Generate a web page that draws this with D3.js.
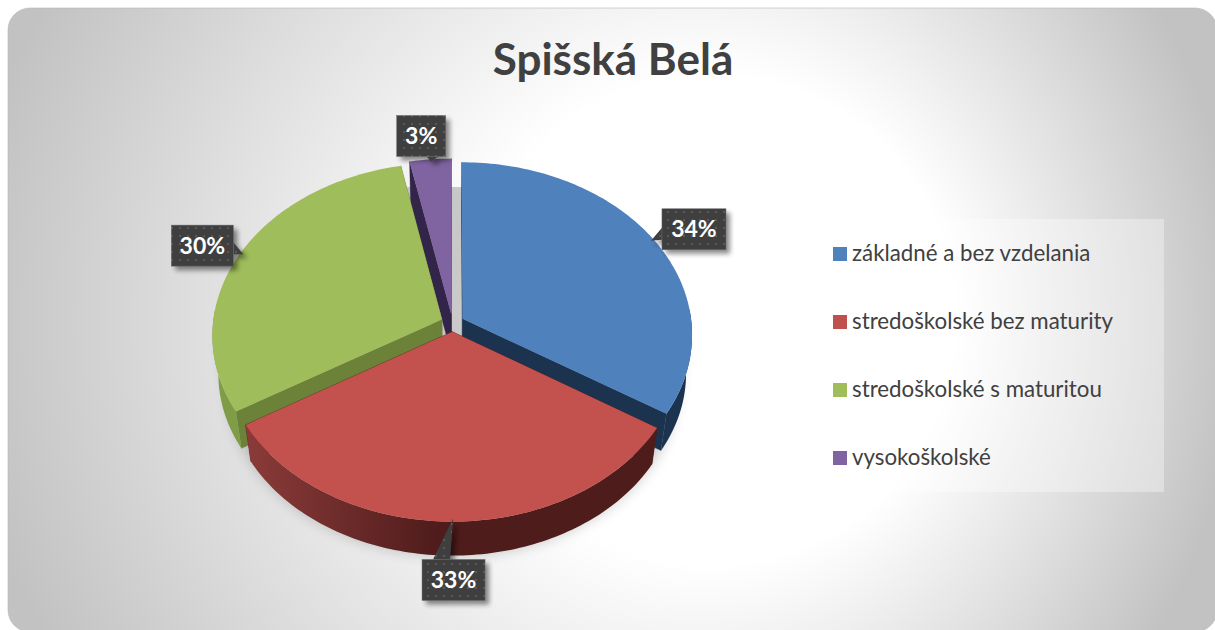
<!DOCTYPE html>
<html><head><meta charset="utf-8">
<script src="https://cdn.jsdelivr.net/npm/d3@7/dist/d3.min.js"></script>
<style>html,body{margin:0;padding:0;background:#fff}svg{display:block}text{font-family:Lato,"Open Sans",sans-serif}</style>
</head><body><div id="c"></div>
<script>
const title = "Spišská Belá";
const categories = ["základné a bez vzdelania","stredoškolské bez maturity","stredoškolské s maturitou","vysokoškolské"];
const values = [33.9,32.5,30.4,3.2];
const colors = ["#4f81bd","#c3514e","#9fbd5b","#8064a2"];
const cutColors = ["#1c3350","#4e1c1b","#6b8238","#33254a"];
const rimColors = ["#1c3350","#4e1c1b","#7f9c46","#33254a"];

const W=1215,H=630;
const cx=452.5, cy=323, R=229, E=11.5, tilt=.748, persp=.09/230, depth=39, far=.975;

const svg=d3.select("#c").append("svg").attr("width",W).attr("height",H);
const defs=svg.append("defs");

const bg=defs.append("radialGradient").attr("id","bg").attr("gradientUnits","userSpaceOnUse")
  .attr("cx",600).attr("cy",320).attr("r",640).attr("fx",780).attr("fy",320);
[[0.38,"#ffffff"],[1,"#c2c2c2"]].forEach(s=>bg.append("stop").attr("offset",s[0]).attr("stop-color",s[1]));

defs.append("filter").attr("id","blur").attr("x","-20%").attr("y","-20%").attr("width","140%").attr("height","140%")
  .append("feGaussianBlur").attr("stdDeviation",7);
defs.append("filter").attr("id","boxBlur").attr("x","-30%").attr("y","-30%").attr("width","160%").attr("height","160%")
  .append("feGaussianBlur").attr("stdDeviation",2.5);
defs.append("clipPath").attr("id","shadowClip").append("rect")
  .attr("x",200).attr("y",187).attr("width",507).attr("height",379);

const pat=defs.append("pattern").attr("id","dots").attr("patternUnits","userSpaceOnUse").attr("width",8).attr("height",8);
pat.append("rect").attr("width",8).attr("height",8).attr("fill","#3f3f3f");
pat.append("rect").attr("x",3).attr("y",3).attr("width",2).attr("height",2).attr("fill","#595959");

svg.append("rect").attr("x",8).attr("y",8).attr("width",1209).attr("height",624).attr("rx",22)
  .attr("fill","url(#bg)").attr("stroke","#b5b5b5").attr("stroke-width",.6);

const project=(X,Y,z)=>{
  const s=1/(1-persp*Y)*(z?far:1);
  return [cx+X*s, cy+tilt*Y*s+(z?depth:0)];
};
const line=d3.line();
const pie=d3.pie().sort(null).value(d=>d)(values);

// soft shadow beneath the disc
const full=d3.range(0,2*Math.PI+.01,.04);
const silhouette=d3.polygonHull(full.flatMap(a=>{
  const X=Math.sin(a)*R,Y=-Math.cos(a)*R;return [project(X,Y,0),project(X,Y,1)];
}));
svg.append("g").attr("clip-path","url(#shadowClip)").append("path")
  .attr("d",line(silhouette)+"Z").attr("transform","translate(0,10)")
  .attr("fill","#000").attr("opacity",.2).attr("filter","url(#blur)");

const slices=pie.map((p,i)=>{
  const mid=(p.startAngle+p.endAngle)/2;
  const ox=Math.sin(mid)*E, oy=-Math.cos(mid)*E;
  const n=Math.max(4,Math.ceil((p.endAngle-p.startAngle)/.02));
  const arc=d3.range(n+1).map(k=>{
    const a=p.startAngle+(p.endAngle-p.startAngle)*k/n;
    return [ox+Math.sin(a)*R, oy-Math.cos(a)*R];
  });
  return {i,mid,ox,oy,arc,p};
});

const rg=defs.append("linearGradient").attr("id","rim1").attr("gradientUnits","userSpaceOnUse")
  .attr("x1",246).attr("x2",440).attr("y1",0).attr("y2",0);
[[0,"#8b3b39"],[1,"#4e1c1b"]].forEach(s=>rg.append("stop").attr("offset",s[0]).attr("stop-color",s[1]));

const g=svg.append("g");
[3,0,2,1].forEach(i=>{
  const s=slices[i], a0=s.arc[0], a1=s.arc[s.arc.length-1], c=[s.ox,s.oy];
  const pg=g.append("g");
  const T=q=>project(q[0],q[1],0), B=q=>project(q[0],q[1],1);
  [a0,a1].forEach(e=>pg.append("path").attr("d",line([T(c),T(e),B(e),B(c)])+"Z")
    .attr("fill",cutColors[i]).attr("stroke",cutColors[i]).attr("stroke-width",.4));
  const front=s.arc.filter(q=>q[1]>-20);
  if(front.length>1) pg.append("path")
    .attr("d",line(front.map(T).concat(front.slice().reverse().map(B)))+"Z")
    .attr("fill",i===1?"url(#rim1)":rimColors[i]);
  pg.append("path").attr("d",line([T(c)].concat(s.arc.map(T)))+"Z").attr("fill",colors[i]);
});

// data labels
const fmt=d=>Math.round(d)+"%";
const labelLayout=[
  {tx:0,dx:11,dy:-32,w:64,side:"left",base:25},
  {tx:3,dx:-31,dy:41,w:63,side:"top",base:-12},
  {tx:0,dx:-72,dy:-29,w:62,side:"right",base:23},
  {tx:0,dx:-34,dy:-46,w:49,side:"bottom",base:36}
];
const boxH=41;
const lg=svg.append("g");
slices.forEach((s,i)=>{
  const L=labelLayout[i];
  const tip=project(s.ox+Math.sin(s.mid)*R*.985, s.oy-Math.cos(s.mid)*R*.985, 0);
  tip[0]+=L.tx;
  const x=tip[0]+L.dx, y=tip[1]+L.dy, w=L.w, h=boxH, hw=i===1?8.5:6;
  let base;
  if(L.side==="left")  base=[[x,y+L.base-hw],[x,y+L.base+hw]];
  if(L.side==="right") base=[[x+w,y+L.base-hw],[x+w,y+L.base+hw]];
  if(L.side==="top")   base=[[x+w/2+L.base-hw,y],[x+w/2+L.base+hw,y]];
  if(L.side==="bottom")base=[[x+L.base-hw,y+h],[x+L.base+hw,y+h]];
  const callout=line([tip,base[0],base[1]])+"Z";
  const box=`M${x},${y}h${w}v${h}h${-w}Z`;
  lg.append("path").attr("d",box+callout).attr("fill","#000").attr("opacity",.45)
    .attr("transform","translate(4,4)").attr("filter","url(#boxBlur)");
  lg.append("path").attr("d",callout).attr("fill","url(#dots)");
  lg.append("rect").attr("x",x).attr("y",y).attr("width",w).attr("height",h).attr("fill","url(#dots)")
    .attr("stroke","#6a6a6a").attr("stroke-width",.5);
  lg.append("text").attr("x",x+w/2).attr("y",y+h/2+8).attr("text-anchor","middle")
    .attr("font-size",23).attr("font-weight",700).attr("fill","#fff").text(fmt(values[i]));
});

// title
svg.append("text").attr("x",613).attr("y",75).attr("text-anchor","middle")
  .attr("font-size",44).attr("font-weight",700).attr("fill","#404040").text(title);

// legend
svg.append("rect").attr("x",781).attr("y",219).attr("width",383).attr("height",273)
  .attr("fill","#fff").attr("opacity",.35);
const ly=d3.scalePoint().domain(categories).range([254,458]);
const leg=svg.append("g").selectAll("g").data(categories).join("g")
  .attr("transform",d=>`translate(833,${ly(d)})`);
leg.append("rect").attr("x",0).attr("y",-7).attr("width",14).attr("height",14)
  .attr("fill",(d,i)=>colors[i]==="#c3514e"?"#c0504d":colors[i]);
leg.append("text").attr("x",19).attr("y",7).attr("font-size",22.3).attr("fill","#404040").text(d=>d);
</script></body></html>
